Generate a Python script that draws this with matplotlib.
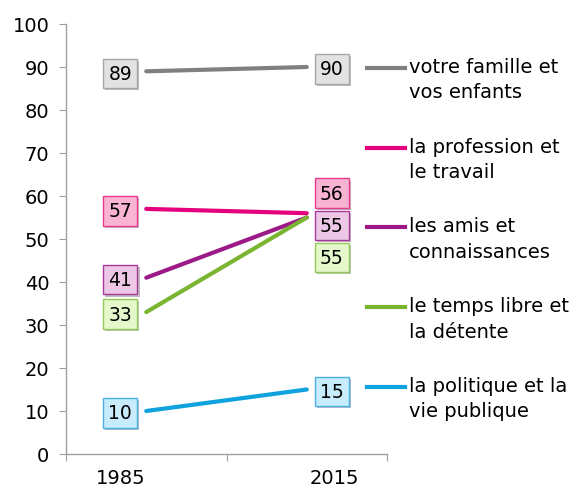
import numpy as np
import matplotlib
matplotlib.use("Agg")
import matplotlib.pyplot as plt
import matplotlib.transforms as mtransforms
import matplotlib.patheffects as pe

# données
years = ["1985", "2015"]
series = [
    "votre famille et\nvos enfants",
    "la profession et\nle travail",
    "les amis et\nconnaissances",
    "le temps libre et\nla détente",
    "la politique et la\nvie publique",
]
v1985 = [89, 57, 41, 33, 10]
v2015 = [90, 56, 55, 55, 15]

line_colors = ["#808080", "#e5007d", "#9c1a87", "#7ab532", "#0ea2de"]
box_fill = ["#e2e2e2", "#f8b4d2", "#ecc8e6", "#e4f8cc", "#c8ecfb"]
box_edge = ["#a6a6a6", "#e83a8e", "#a8389a", "#94c95a", "#48b0e4"]
# décalage vertical des étiquettes 2015 (en pixels) pour éviter les chevauchements
off2015 = [0, 22, -6, -38, 0]

plt.rcParams['font.family'] = ['DejaVu Sans']

fig = plt.figure(figsize=(5.77, 4.89), dpi=100)
ax = fig.add_axes([66 / 577, 1 - 455 / 489, 321 / 577, 430 / 489])

x = np.arange(len(years))
for i in range(len(series)):
    ax.plot(x, [v1985[i], v2015[i]], color=line_colors[i], lw=3,
            solid_capstyle='round', zorder=2)
    for xi, val, dx, dy in [(0, v1985[i], -26, 0), (1, v2015[i], 25, off2015[i])]:
        t = ax.annotate(str(val), (xi, val), xytext=(dx * 0.72, dy * 0.72),
                        textcoords='offset points', ha='center', va='center_baseline',
                        fontsize=13.5, color='black', zorder=4,
                        bbox=dict(boxstyle='square,pad=0.28', fc=box_fill[i],
                                  ec=box_edge[i], lw=1))
        t.get_bbox_patch().set_path_effects(
            [pe.SimplePatchShadow(offset=(1.5, -1.5), alpha=0.35), pe.Normal()])

ax.set_xlim(-0.5, 1.5)
ax.set_ylim(0, 100)
ax.set_yticks(np.arange(0, 101, 10))
ax.tick_params(axis='y', labelsize=14, length=5, color='#a0a0a0', pad=7)

# graduations majeures entre catégories, libellés décalés sous les étiquettes
ax.set_xticks([-0.5, 0.5, 1.5])
ax.set_xticklabels([])
ax.set_xticks([-0.16, 1.17], minor=True)
ax.set_xticklabels(years, minor=True)
ax.tick_params(axis='x', which='major', length=5, color='#a0a0a0')
ax.tick_params(axis='x', which='minor', length=0, labelsize=14, pad=10)

for s in ['top', 'right']:
    ax.spines[s].set_visible(False)
for s in ['left', 'bottom']:
    ax.spines[s].set_color('#a0a0a0')
    ax.spines[s].set_linewidth(1)

# légende à droite
trans = mtransforms.blended_transform_factory(ax.transAxes, ax.transData)
leg_y = np.linspace(89.8, 15.6, len(series))
for i, name in enumerate(series):
    ax.plot([0.938, 1.056], [leg_y[i], leg_y[i]], color=line_colors[i], lw=3,
            transform=trans, clip_on=False)
    ax.annotate(name, (1.068, leg_y[i]), xycoords=trans, xytext=(0, 8),
                textcoords='offset points', ha='left', va='top',
                fontsize=14, linespacing=1.44, annotation_clip=False)

fig.savefig("out.png", dpi=100)
